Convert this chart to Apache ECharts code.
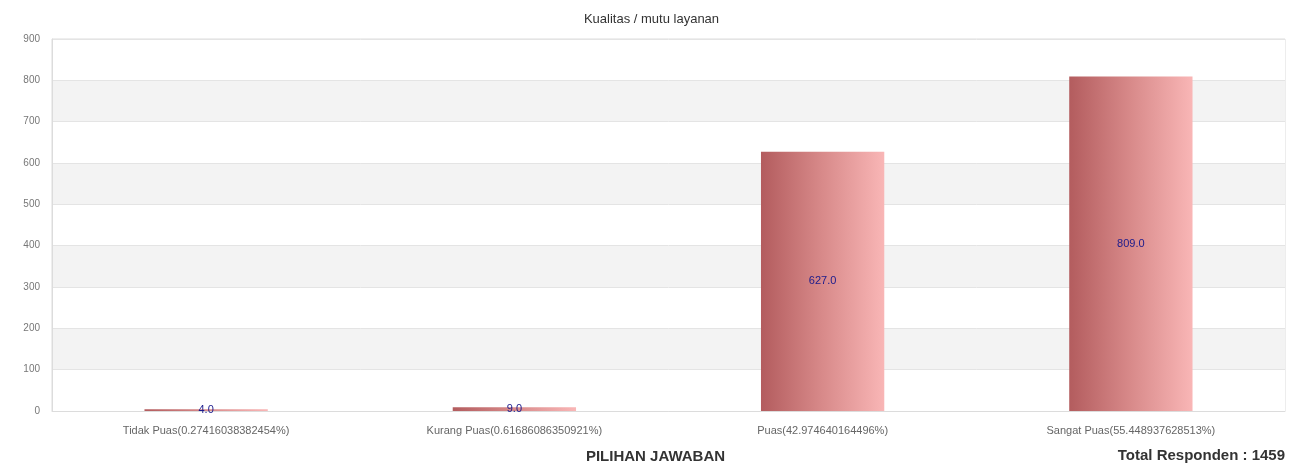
<!DOCTYPE html>
<html>
<head>
<meta charset="utf-8">
<script src="https://cdn.jsdelivr.net/npm/echarts@6/dist/echarts.min.js"></script>
<style>
  html, body { margin: 0; padding: 0; background: #fff; }
  #chart { width: 1303px; height: 474px; }
</style>
</head>
<body>
<div id="chart"></div>
<script>
// data
const categories = [
  "Tidak Puas(0.27416038382454%)",
  "Kurang Puas(0.61686086350921%)",
  "Puas(42.974640164496%)",
  "Sangat Puas(55.448937628513%)",
];
const values = [4, 9, 627, 809];
const totalResponden = 1459;

const chart = echarts.init(document.getElementById("chart"));

const barColor = new echarts.graphic.LinearGradient(0, 0, 1, 0, [
  { offset: 0, color: "#b35c5e" },
  { offset: 0.5, color: "#d88a8a" },
  { offset: 1, color: "#f9b6b6" },
]);

const option = {
  animation: false,
  title: {
    text: "Kualitas / mutu layanan",
    left: "center",
    top: 8,
    textStyle: {
      fontSize: 13,
      fontWeight: "normal",
      color: "#333",
      fontFamily: "Arial",
    },
  },
  grid: {
    left: 52,
    right: 18,
    top: 39,
    bottom: 63,
    show: true,
    borderColor: "#dcdcdc",
    borderWidth: 1,
  },
  xAxis: {
    type: "category",
    data: categories,
    name: "PILIHAN JAWABAN",
    nameLocation: "middle",
    nameGap: 38,
    nameTextStyle: {
      fontSize: 15,
      fontWeight: "bold",
      color: "#333",
      fontFamily: "Arial",
      padding: [0, 26, 0, 0],
    },
    axisTick: { show: false },
    axisLine: { lineStyle: { color: "#dcdcdc" } },
    axisLabel: {
      color: "#666",
      fontSize: 11,
      margin: 14,
      fontFamily: "Arial",
    },
  },
  yAxis: {
    type: "value",
    min: 0,
    max: 900,
    interval: 100,
    axisLine: { show: true, lineStyle: { color: "#dcdcdc" } },
    axisTick: { show: false },
    axisLabel: { color: "#777", fontSize: 10, margin: 12, fontFamily: "Arial" },
    splitLine: { lineStyle: { color: "#e4e4e4" } },
    splitArea: {
      show: true,
      areaStyle: { color: ["#ffffff", "#f3f3f3"] },
    },
  },
  graphic: [
    {
      type: "text",
      right: 18,
      top: 448,
      style: {
        text: "Total Responden : " + totalResponden,
        fontSize: 15,
        fontWeight: "bold",
        fill: "#333",
        fontFamily: "Arial",
      },
    },
  ],
  series: [
    {
      type: "bar",
      data: values,
      barWidth: "40%",
      itemStyle: { color: barColor },
      label: {
        show: true,
        position: "inside",
        color: "#1a1a8c",
        fontSize: 11,
        fontFamily: "Arial",
        formatter: (p) => p.value.toFixed(1),
      },
    },
  ],
};

chart.setOption(option);
</script>
</body>
</html>
